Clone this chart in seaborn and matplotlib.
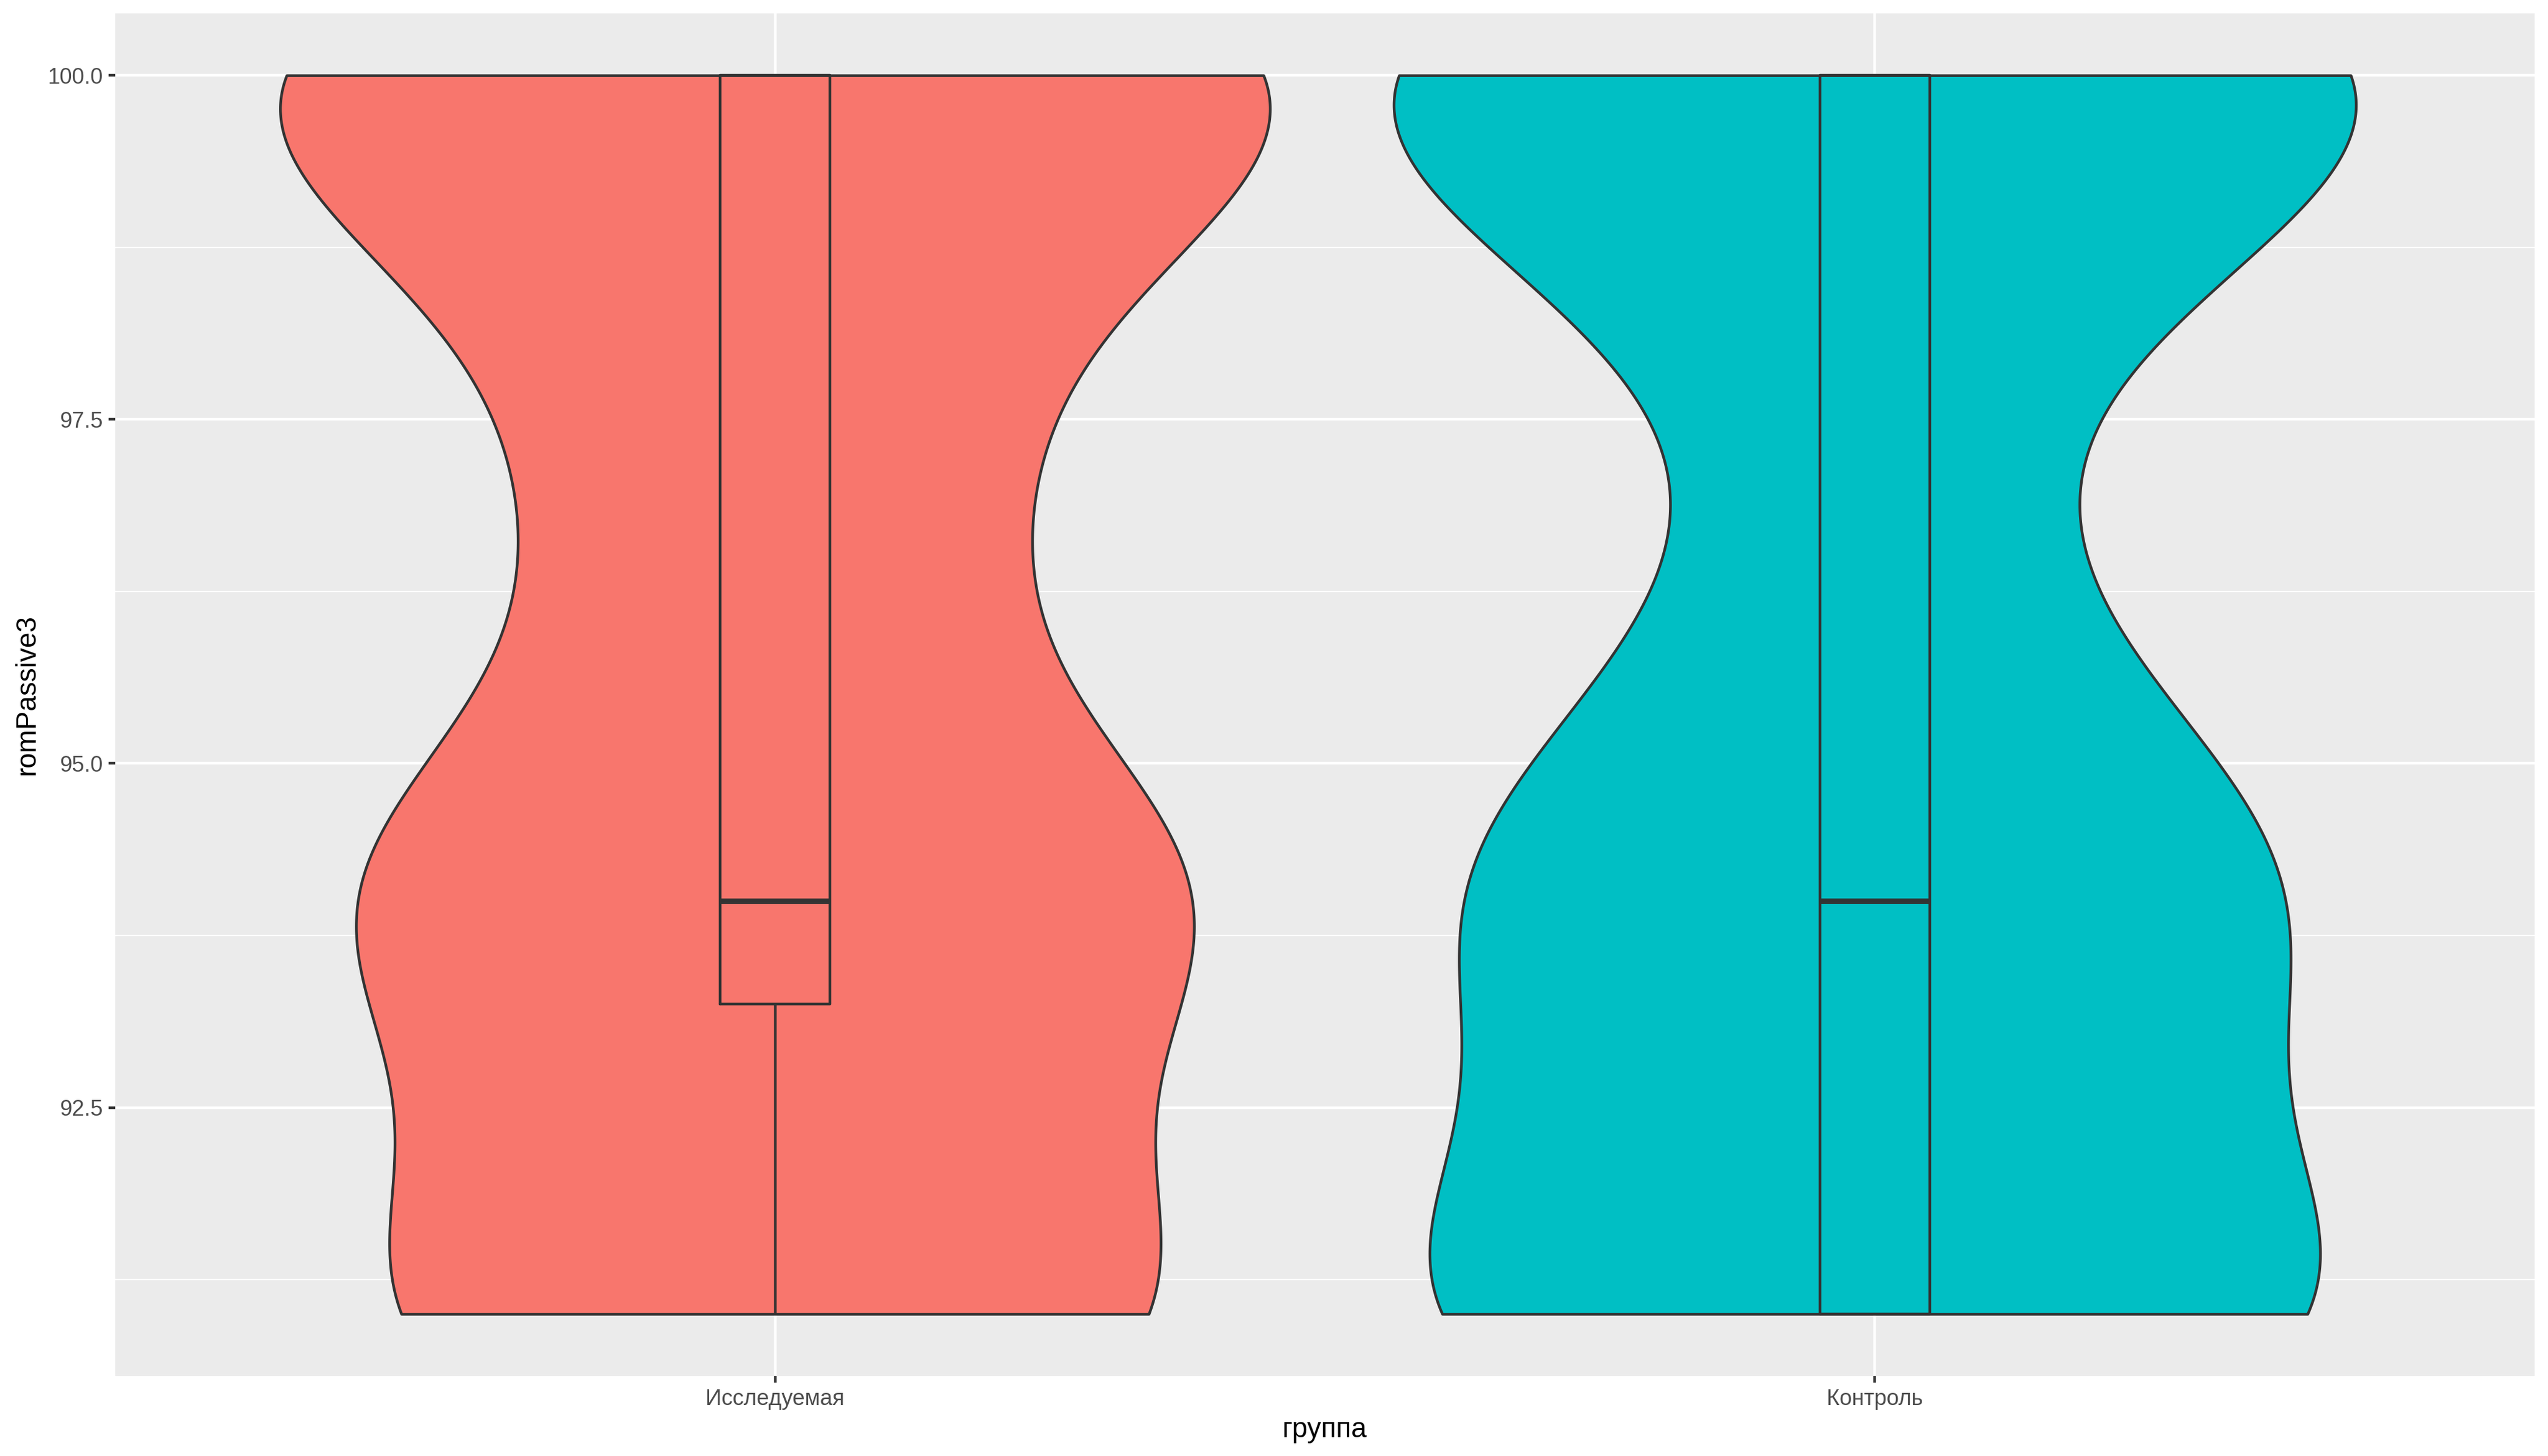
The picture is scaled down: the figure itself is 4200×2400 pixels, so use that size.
import numpy as np
import pandas as pd
import seaborn as sns
import matplotlib
matplotlib.use("Agg")
import matplotlib.pyplot as plt
from matplotlib.ticker import FixedLocator

# data: how many patients had each romPassive3 value, per group
groups = ["Исследуемая", "Контроль"]
values = [91, 92, 93, 94, 95, 96, 97, 98, 99, 100]
counts_study = [21, 0, 1, 22, 0, 2, 9, 1, 4, 26]
counts_control = [27, 0, 5, 18, 4, 5, 1, 5, 3, 29]
colors = ["#F8766D", "#00BFC4"]

y_ticks = [92.5, 95.0, 97.5, 100.0]
y_minor = [91.25, 93.75, 96.25, 98.75]

df = pd.DataFrame({
    "группа": np.repeat(groups, [sum(counts_study), sum(counts_control)]),
    "romPassive3": np.concatenate([np.repeat(values, counts_study),
                                   np.repeat(values, counts_control)]).astype(float),
})


def nrd0_factor(kde):
    # R's bw.nrd0 as a factor of the sample sd (what gaussian_kde expects)
    x = kde.dataset.ravel()
    sd = x.std(ddof=1)
    q25, q75 = np.percentile(x, [25, 75])
    lo = min(sd, (q75 - q25) / 1.34)
    return 0.9 * lo * len(x) ** -0.2 / sd


sns.set_style("darkgrid", {"axes.facecolor": "#EBEBEB", "grid.color": "white"})
plt.rcParams["font.family"] = ["Liberation Sans", "DejaVu Sans"]

fig, ax = plt.subplots(figsize=(14, 8), dpi=300)
fig.subplots_adjust(left=0.0452, right=0.9948, top=0.9908, bottom=0.055)

lw = 1.07
# no hue here: with hue each violin gets normalised on its own, ggplot's "area" uses a shared max
sns.violinplot(data=df, x="группа", y="romPassive3", order=groups, color=colors[0],
               bw_method=nrd0_factor, cut=0, gridsize=512, density_norm="area",
               common_norm=False, width=0.9, inner=None, linewidth=lw, linecolor="#333333",
               saturation=1, ax=ax)
for coll, c in zip(ax.collections, colors):
    coll.set_facecolor(c)

sns.boxplot(data=df, x="группа", y="romPassive3", order=groups, width=0.1, fill=False,
            color="#333333", saturation=1, linewidth=lw, showcaps=False, showfliers=False,
            whis=1.5, medianprops={"linewidth": 2 * lw}, ax=ax)

ax.set_xlim(-0.6, 1.6)
ax.set_ylim(90.55, 100.45)
ax.set_yticks(y_ticks)
ax.set_yticklabels([f"{t:.1f}" for t in y_ticks])
ax.yaxis.set_minor_locator(FixedLocator(y_minor))
ax.grid(which="major", color="white", linewidth=lw)
ax.grid(which="minor", axis="y", color="white", linewidth=lw / 2)
ax.set_axisbelow(True)
for s in ax.spines.values():
    s.set_visible(False)

ax.tick_params(which="major", length=2.75, width=lw, color="#333333", labelcolor="#4D4D4D",
               labelsize=8.8, pad=2.2, bottom=True, left=True)
ax.tick_params(which="minor", length=0)
ax.set_xlabel("группа", fontsize=11, color="black", labelpad=2.75)
ax.set_ylabel("romPassive3", fontsize=11, color="black", labelpad=2.75)

fig.savefig("out.png", dpi=300)
